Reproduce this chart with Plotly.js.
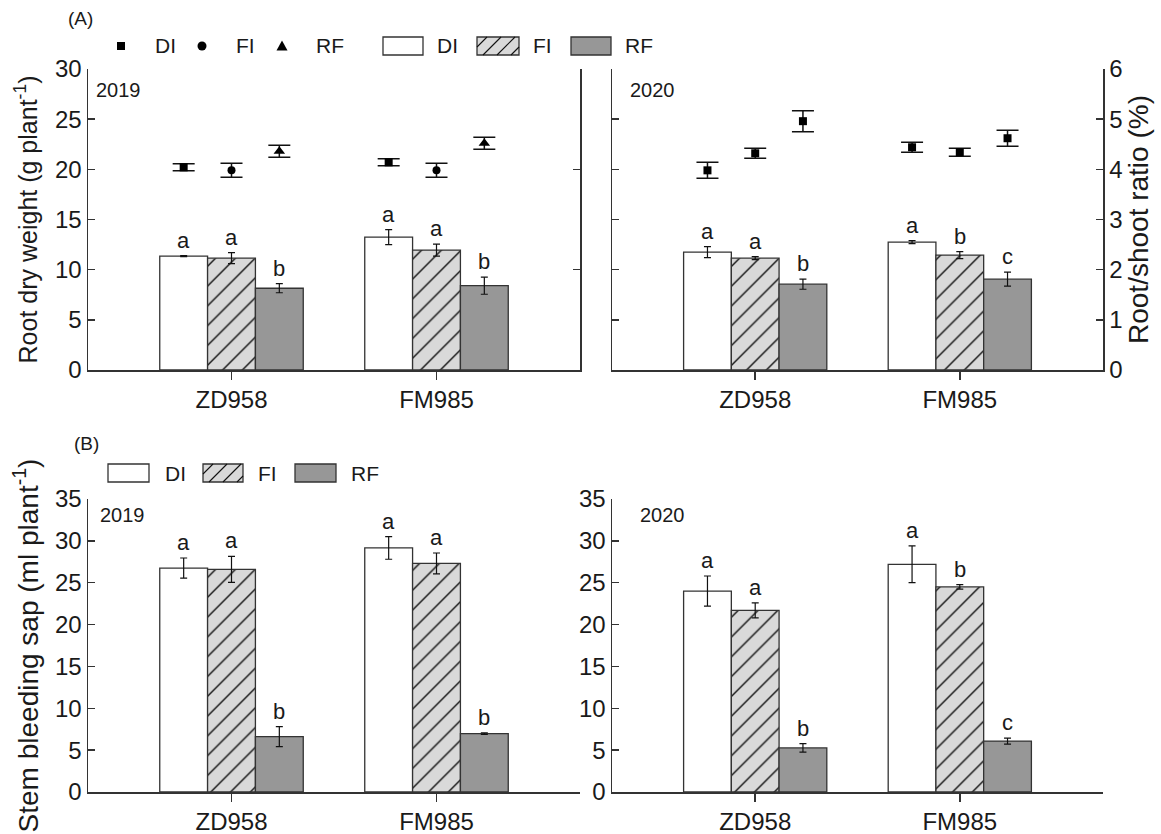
<!DOCTYPE html>
<html>
<head>
<meta charset="utf-8">
<script src="https://cdn.plot.ly/plotly-3.0.1.min.js"></script>
<style>html,body{margin:0;padding:0;background:#fff;}#chart{width:1161px;height:834px;}</style>
</head>
<body>
<div id="chart"></div>
<script>
// ---------------- DATA ----------------
const categories = ['ZD958', 'FM985'];
const treatments = ['DI', 'FI', 'RF'];

// Root dry weight (g plant-1), rows: DI, FI, RF ; columns: ZD958, FM985
const rdw2019 = [[11.35, 13.25], [11.15, 11.95], [8.15, 8.4]];
const rdw2019Err = [[0.05, 0.75], [0.55, 0.6], [0.45, 0.85]];
const rdw2019Let = [['a', 'a'], ['a', 'a'], ['b', 'b']];

const rdw2020 = [[11.75, 12.75], [11.15, 11.45], [8.55, 9.05]];
const rdw2020Err = [[0.55, 0.15], [0.15, 0.35], [0.5, 0.7]];
const rdw2020Let = [['a', 'a'], ['a', 'b'], ['b', 'c']];

// Root/shoot ratio (%)
const ratio2019 = [[4.04, 4.14], [3.98, 3.98], [4.36, 4.52]];
const ratio2019Err = [[0.07, 0.07], [0.14, 0.14], [0.12, 0.12]];
const ratio2020 = [[3.98, 4.44], [4.32, 4.34], [4.96, 4.62]];
const ratio2020Err = [[0.16, 0.1], [0.1, 0.08], [0.21, 0.16]];

// Stem bleeding sap (ml plant-1)
const sap2019 = [[26.75, 29.15], [26.6, 27.3], [6.62, 6.97]];
const sap2019Err = [[1.2, 1.35], [1.55, 1.25], [1.2, 0.1]];
const sap2019Let = [['a', 'a'], ['a', 'a'], ['b', 'b']];

const sap2020 = [[24.0, 27.2], [21.7, 24.5], [5.27, 6.08]];
const sap2020Err = [[1.8, 2.2], [0.9, 0.27], [0.5, 0.35]];
const sap2020Let = [['a', 'a'], ['a', 'b'], ['b', 'c']];

// ---------------- STYLE ----------------
const FONT = 'Liberation Sans, Arial, Helvetica, sans-serif';
const INK = '#1a1a1a';
const LINE = '#333333';
const BARGAP = 0.3;
const BW = (1 - BARGAP) / 3;
const HATCH = 14;
const barStyles = [
  {color: '#ffffff', pattern: {shape: ''}},
  {color: '#d9d9d9', pattern: {shape: '/', bgcolor: '#d9d9d9', fgcolor: '#111111', size: HATCH, solidity: 0.1, fillmode: 'replace'}},
  {color: '#979797', pattern: {shape: ''}}
];
const sym2019 = ['square', 'circle', 'triangle-up'];
const sym2020 = ['square', 'square', 'square'];
const catIdx = categories.map((c, i) => i);

const traces = [];
const annotations = [];

function addBars(vals, errs, lets, xa, ya) {
  treatments.forEach((t, j) => {
    traces.push({
      type: 'bar', x: catIdx, y: vals[j], name: t, xaxis: xa, yaxis: ya,
      offsetgroup: String(j),
      marker: {color: barStyles[j].color, pattern: barStyles[j].pattern, line: {color: LINE, width: 1.3}},
      error_y: {type: 'data', array: errs[j], visible: true, color: '#111', thickness: 1.2, width: 3.5},
      showlegend: false, hoverinfo: 'skip'
    });
    catIdx.forEach(i => {
      annotations.push({
        text: lets[j][i], xref: xa, yref: ya,
        x: i + (j - 1) * BW, y: vals[j][i] + errs[j][i],
        xanchor: 'center', yanchor: 'bottom', yshift: 1, showarrow: false,
        font: {size: 22, color: INK, family: FONT}
      });
    });
  });
}
function addPoints(vals, errs, syms, xa, ya) {
  treatments.forEach((t, j) => {
    traces.push({
      type: 'scatter', mode: 'markers', xaxis: xa, yaxis: ya,
      x: catIdx.map(i => i + (j - 1) * BW), y: vals[j], name: t,
      marker: {symbol: syms[j], size: syms[j] === 'triangle-up' ? 10 : 8, color: '#000'},
      error_y: {type: 'data', array: errs[j], visible: true, color: '#111', thickness: 1.5, width: 11},
      showlegend: false, hoverinfo: 'skip'
    });
  });
}

addBars(rdw2019, rdw2019Err, rdw2019Let, 'x', 'y');
addPoints(ratio2019, ratio2019Err, sym2019, 'x', 'y2');
addBars(rdw2020, rdw2020Err, rdw2020Let, 'x2', 'y3');
addPoints(ratio2020, ratio2020Err, sym2020, 'x2', 'y4');
addBars(sap2019, sap2019Err, sap2019Let, 'x3', 'y5');
addBars(sap2020, sap2020Err, sap2020Let, 'x4', 'y6');

// ---------------- LAYOUT ----------------
const ML = 88, MR = 58, MT = 69, MB = 42, W = 1161, H = 834;
const PL = ML, PR = W - MR, PT = MT, PB = H - MB;
const px = x => (x - PL) / (PR - PL);
const py = y => (PB - y) / (PB - PT);
const dL = px(580), dR = px(612);
const topD = [py(370), 1], botD = [0, py(499)];

const xBase = {range: [-0.7, 1.7], tickvals: catIdx, ticktext: categories, ticks: 'outside', ticklen: 8, tickwidth: 1.5,
  tickcolor: LINE, showline: true, linecolor: LINE, linewidth: 1.5, showgrid: false, zeroline: false,
  tickfont: {size: 24, color: INK}, fixedrange: true};
const yBase = {ticks: 'inside', ticklen: 7, tickwidth: 1.5, tickcolor: LINE, showline: true, linecolor: LINE, linewidth: 1.5,
  showgrid: false, zeroline: false, tickfont: {size: 24, color: INK}, fixedrange: true};

// legend helpers (pixel -> paper)
const shapes = [];
function box(x0, x1, yc, fill) {
  shapes.push({type: 'rect', xref: 'paper', yref: 'paper', x0: px(x0), x1: px(x1), y0: py(yc + 9), y1: py(yc - 9),
    fillcolor: fill, line: {color: LINE, width: 1.3}, layer: 'above'});
}
function hatchBox(x0, x1, yc) {
  box(x0, x1, yc, '#d9d9d9');
  const h = 18, yt = yc - 9, yb = yc + 9;
  for (let k = -h + 10; k < x1 - x0; k += HATCH) {
    let sx = x0 + k, sy = yb, ex = x0 + k + h, ey = yt;
    if (sx < x0) { sy = yb - (x0 - sx); sx = x0; }
    if (ex > x1) { ey = yt + (ex - x1); ex = x1; }
    shapes.push({type: 'line', xref: 'paper', yref: 'paper', x0: px(sx), y0: py(sy), x1: px(ex), y1: py(ey),
      line: {color: '#111111', width: 1.1}, layer: 'above'});
  }
}
function label(text, x, y, size, anchor) {
  annotations.push({text: text, xref: 'paper', yref: 'paper', x: px(x), y: py(y), xanchor: anchor || 'left', yanchor: 'middle',
    showarrow: false, font: {size: size || 21, color: INK, family: FONT}});
}

// Top legend
const ly = 46;
shapes.push({type: 'rect', xref: 'paper', yref: 'paper', x0: px(117), x1: px(125), y0: py(ly + 4), y1: py(ly - 4), fillcolor: '#000', line: {width: 0}});
label('DI', 153, ly);
shapes.push({type: 'circle', xref: 'paper', yref: 'paper', x0: px(197.5), x1: px(206.5), y0: py(ly + 4.5), y1: py(ly - 4.5), fillcolor: '#000', line: {width: 0}});
label('FI', 234, ly);
shapes.push({type: 'path', xref: 'paper', yref: 'paper', path: 'M' + px(276.5) + ',' + py(ly + 4.5) + ' L' + px(287.5) + ',' + py(ly + 4.5) + ' L' + px(282) + ',' + py(ly - 5.5) + ' Z', fillcolor: '#000', line: {width: 0}});
label('RF', 314, ly);
box(383, 423, ly, '#ffffff'); label('DI', 435, ly);
hatchBox(477, 519, ly); label('FI', 531, ly);
box(571, 611, ly, '#979797'); label('RF', 623, ly);

// Bottom legend
const by = 473;
box(108, 149, by, '#ffffff'); label('DI', 163, by);
hatchBox(203, 243, by); label('FI', 256, by);
box(295, 336, by, '#979797'); label('RF', 349, by);

// Panel labels
label('(A)', 80, 18, 19, 'center');
label('(B)', 86, 444, 19, 'center');

// Year labels
function year(text, xa, ya, x, y) {
  annotations.push({text: text, xref: xa + ' domain', yref: ya + ' domain', x: x, y: y, xanchor: 'left', yanchor: 'top',
    showarrow: false, font: {size: 20, color: INK, family: FONT}});
}
year('2019', 'x', 'y', 0.012, 0.975);
year('2020', 'x2', 'y3', 0.032, 0.975);
year('2019', 'x3', 'y5', 0.02, 0.99);
year('2020', 'x4', 'y6', 0.053, 0.99);

const layout = {
  width: W, height: H,
  margin: {l: ML, r: MR, t: MT, b: MB, pad: 0},
  paper_bgcolor: '#ffffff', plot_bgcolor: 'rgba(0,0,0,0)',
  font: {family: FONT, size: 22, color: INK},
  showlegend: false,
  barmode: 'group', bargap: BARGAP, bargroupgap: 0,
  xaxis: Object.assign({}, xBase, {domain: [0, dL], anchor: 'y'}),
  yaxis: Object.assign({}, yBase, {domain: topD, anchor: 'x', range: [0, 30], dtick: 5,
    title: {text: 'Root dry weight (g plant<sup>-1</sup>)', font: {size: 25, color: INK}, standoff: 10}}),
  yaxis2: Object.assign({}, yBase, {overlaying: 'y', side: 'right', anchor: 'x', range: [0, 6], dtick: 2, showticklabels: false}),
  xaxis2: Object.assign({}, xBase, {domain: [dR, 1], anchor: 'y3'}),
  yaxis3: Object.assign({}, yBase, {domain: topD, anchor: 'x2', range: [0, 30], dtick: 5, showticklabels: false}),
  yaxis4: Object.assign({}, yBase, {overlaying: 'y3', side: 'right', anchor: 'x2', range: [0, 6], dtick: 1,
    title: {text: 'Root/shoot ratio (%)', font: {size: 28, color: INK}, standoff: 6}}),
  xaxis3: Object.assign({}, xBase, {domain: [0, dL], anchor: 'y5'}),
  yaxis5: Object.assign({}, yBase, {domain: botD, anchor: 'x3', range: [0, 35], dtick: 5,
    title: {text: 'Stem bleeding sap (ml plant<sup>-1</sup>)', font: {size: 28, color: INK}, standoff: 8}}),
  xaxis4: Object.assign({}, xBase, {domain: [dR, 1], anchor: 'y6'}),
  yaxis6: Object.assign({}, yBase, {domain: botD, anchor: 'x4', range: [0, 35], dtick: 5}),
  shapes: shapes,
  annotations: annotations
};

Plotly.newPlot('chart', traces, layout, {staticPlot: true, displayModeBar: false});
</script>
</body>
</html>
